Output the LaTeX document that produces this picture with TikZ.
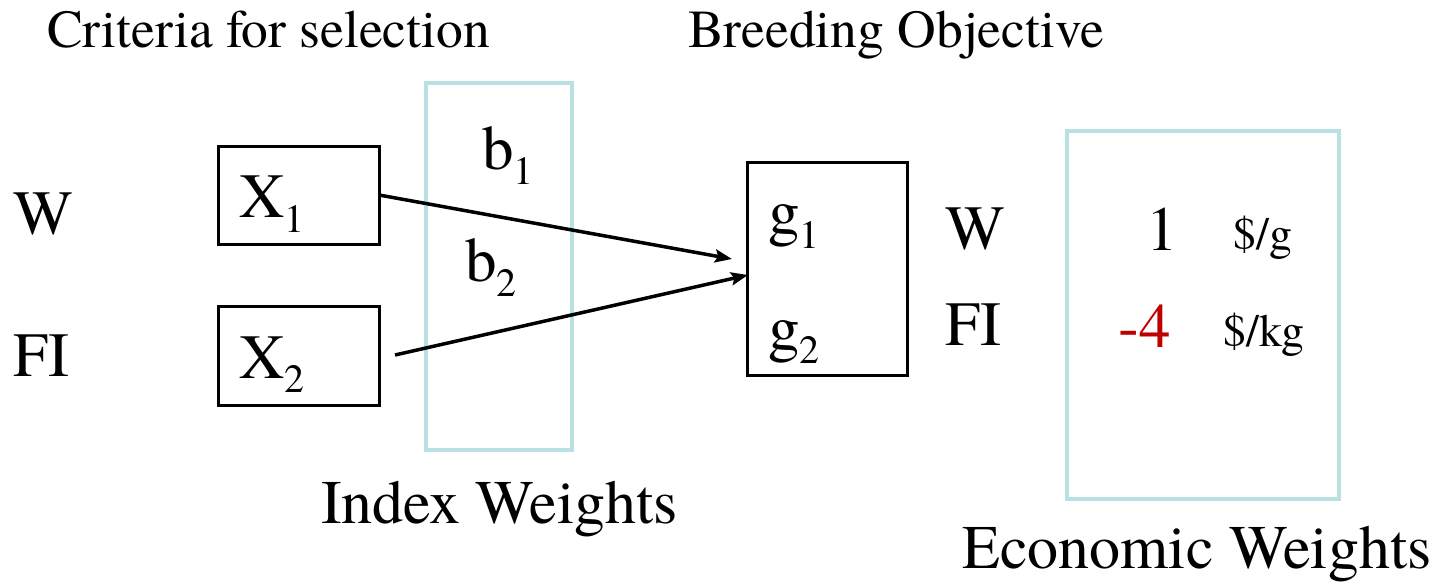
\documentclass[tikz,border=0pt]{standalone}
\usepackage{fontspec}
\setmainfont{texgyretermes}[Extension=.otf, UprightFont=*-regular]
\usetikzlibrary{arrows.meta}
\definecolor{lightcyan}{RGB}{185,224,227}
\definecolor{darkred}{RGB}{192,0,0}
\newcommand{\mysub}[1]{\raisebox{-0.23em}{\fontsize{40}{40}\selectfont #1}}
\tikzset{
  txt/.style={inner sep=0pt, anchor=base west},
  title/.style={txt, font=\fontsize{53.5}{53.5}\selectfont},
  big/.style={txt, font=\fontsize{63}{63}\selectfont},
  lbl/.style={txt, font=\fontsize{62}{62}\selectfont},
  unit/.style={txt, font=\fontsize{46}{46}\selectfont},
  blackbox/.style={draw=black, line width=3pt, inner sep=0pt},
  cyanbox/.style={draw=lightcyan, line width=4pt, inner sep=0pt},
  conn/.style={line width=3.5pt, -{Stealth[length=17pt,width=13pt,inset=3pt]}}
}
\begin{document}
\begin{tikzpicture}[x=1pt,y=-1pt]
\useasboundingbox (0,0) rectangle (1449,585);
% titles
\node[title] (crit) at (47,48) {Criteria for selection};
\node[title] (breed) at (688,48) {Breeding Objective};
% left labels
\node[big] (wl) at (13,235) {W};
\node[big] (fil) at (13,377) {FI};
% X boxes
\draw[blackbox] (218,147) rectangle (379,245);
\draw[blackbox] (218,307) rectangle (379,405);
\coordinate (x1e) at (379,195);
\node[big] (x1) at (239,218) {X\mysub{1}};
\node[big] (x2) at (239,378) {X\mysub{2}};
% index weights box
\draw[cyanbox] (426,83) rectangle (572,450);
\node[big] (b1) at (482,170) {b\mysub{1}};
\node[big] (b2) at (465,282) {b\mysub{2}};
\node[lbl] (iw) at (321,523) {Index Weights};
% g box
\draw[blackbox] (747,163) rectangle (907,376);
\node[big] (g1) at (768,234) {g\mysub{1}};
\node[big] (g2) at (768,349) {g\mysub{2}};
\coordinate (a1end) at (732,259);
\coordinate (a2start) at (395,355);
\coordinate (a2end) at (748,275);
\draw[conn] (x1e) -- (a1end);
\draw[conn] (a2start) -- (a2end);
% right labels
\node[big] (wr) at (945,250) {W};
\node[big] (fir) at (945,345) {FI};
% economic box
\draw[cyanbox] (1067,131) rectangle (1339,499);
\node[big, anchor=base east] (one) at (1178,251) {1};
\node[big, anchor=base east, text=darkred] (m4) at (1171,348) {-4};
\node[unit] (ug) at (1233,250) {\$/g};
\node[unit] (ukg) at (1223,347) {\$/kg};
\node[lbl] (ew) at (962,568) {Economic Weights};
\end{tikzpicture}
\end{document}
